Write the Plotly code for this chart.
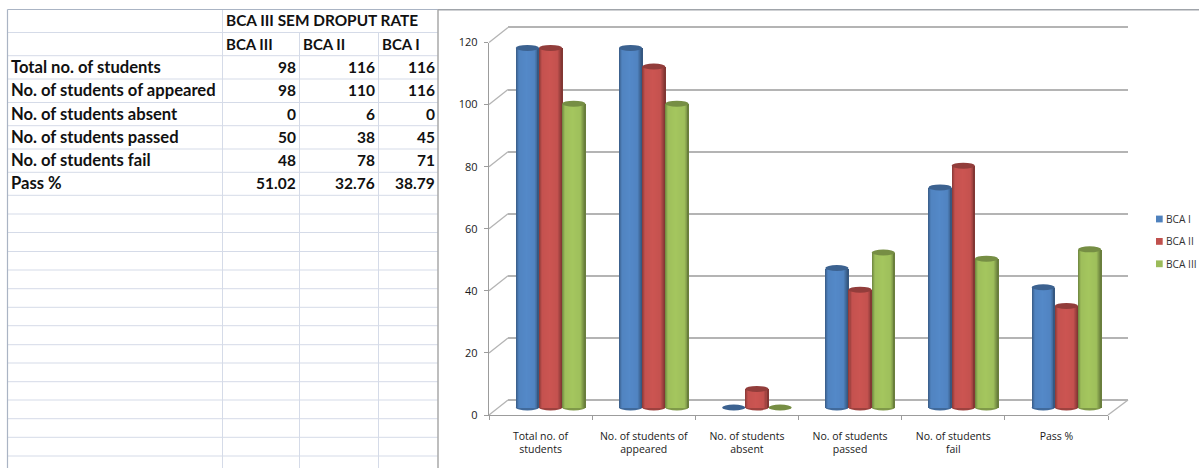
import plotly.graph_objects as go

# Dropout figures per class
row_labels = ["Total no. of students", "No. of students of appeared", "No. of students absent",
              "No. of students passed", "No. of students fail", "Pass %"]
axis_labels = ["Total no. of<br>students", "No. of students of<br>appeared", "No. of students<br>absent",
               "No. of students<br>passed", "No. of students<br>fail", "Pass %"]
bca_i = [116, 116, 0, 45, 71, 38.79]
bca_ii = [116, 110, 6, 38, 78, 32.76]
bca_iii = [98, 98, 0, 50, 48, 51.02]
value_ticks = [0, 20, 40, 60, 80, 100, 120]
table_title = "BCA III SEM DROPUT RATE"

W, H = 1199, 468
FONT = "Lato"
CHART_FONT = "Open Sans"
TEXT = "#1a1a1a"
GRID = "#b4b4b4"
AXIS = "#9c9c9c"
CELL = "#d5dbe8"


def px(x):
    return x / W


def py(y):
    return 1 - y / H


fig = go.Figure()

# Three stacked coordinate systems give the pseudo-3D look:
# back wall (gridlines), cylinders, front plane (ticks and labels).
WALL_L, WALL_R, WALL_B, WALL_T = 508, 1128, 400, 27.5
FRONT_L, FRONT_R, FRONT_B, FRONT_T = 489, 1108, 415, 42.5
BAR_L, BAR_R = 499, 1118
UNIT = 3.1
BAR_ZERO = 407.5
BAR_FLOOR = -8
y_max = value_ticks[-1]
# The wall axis runs a little past the top tick so its gridline is still drawn
wall_top = y_max + 1
wall_top_px = WALL_B - (WALL_B - WALL_T) * wall_top / y_max

x_idx = list(range(len(axis_labels)))
slot_px = (BAR_R - BAR_L) / len(axis_labels)
bar_w = 23.2 / slot_px
STRIPS = 23
CAP = 3 / UNIT

fig.add_trace(go.Scatter(x=[0], y=[0], xaxis="x", yaxis="y", mode="markers",
                         marker=dict(opacity=0), showlegend=False, hoverinfo="skip"))


def shade(rgb, f):
    return "rgb({},{},{})".format(*[min(255, round(c * f)) for c in rgb])


def cylinder_factor(t):
    # Horizontal lighting across a cylinder, t runs 0..1 left to right
    if t < 0.13:
        return 0.70 + (1.02 - 0.70) * (t / 0.13)
    if t < 0.80:
        return 1.02 + 0.04 * (1 - abs(t - 0.46) / 0.34)
    return 1.02 - (1.02 - 0.64) * ((t - 0.80) / 0.20)


series = [("BCA I", bca_i, (79, 129, 189)),
          ("BCA II", bca_ii, (192, 80, 77)),
          ("BCA III", bca_iii, (155, 187, 89))]
shapes = []
annotations = []

for s, (name, values, rgb) in enumerate(series):
    left = (s - 1.5) * bar_w
    base_col = "rgb({},{},{})".format(*rgb)
    fig.add_trace(go.Bar(x=x_idx, y=values, name=name, width=bar_w, offset=left,
                         marker=dict(color=base_col, line=dict(width=0)), showlegend=False,
                         xaxis="x2", yaxis="y2", hoverinfo="skip"))
    # Painted left to right, each strip reaching the right edge so no seams show
    for k in range(STRIPS):
        frac = k / STRIPS
        fig.add_trace(go.Bar(x=x_idx, y=values, width=bar_w * (1 - frac), offset=left + bar_w * frac,
                             marker=dict(color=shade(rgb, cylinder_factor((k + 0.5) / STRIPS)), line=dict(width=0)),
                             xaxis="x2", yaxis="y2", showlegend=False, hoverinfo="skip"))
    for i, v in zip(x_idx, values):
        if v > 0:
            shapes.append(dict(type="circle", xref="x2", yref="y2", layer="below", line=dict(width=0),
                               fillcolor=shade(rgb, 0.82), x0=i + left, x1=i + left + bar_w, y0=-CAP, y1=CAP))
        shapes.append(dict(type="circle", xref="x2", yref="y2", layer="above", line=dict(width=0),
                           fillcolor=shade(rgb, 0.76), x0=i + left, x1=i + left + bar_w, y0=v - CAP, y1=v + CAP))
    # Legend key: small square with the label right next to it
    key_y = 219 + s * 22.4
    shapes.append(dict(type="rect", xref="paper", yref="paper", layer="above", line=dict(width=0),
                       fillcolor=base_col, x0=px(1156), x1=px(1162.7), y0=py(key_y - 3.4), y1=py(key_y + 3.4)))
    annotations.append(dict(text=name, xref="paper", yref="paper", x=px(1164.5), y=py(key_y), xanchor="left",
                            yanchor="middle", showarrow=False, borderpad=0,
                            font=dict(family=CHART_FONT, size=10.2, color="#333333")))

fig.add_trace(go.Scatter(x=axis_labels, y=[0] * len(axis_labels), xaxis="x3", yaxis="y3", mode="markers",
                         marker=dict(opacity=0), showlegend=False, hoverinfo="skip"))

# Side wall and floor edges joining the front plane to the back wall
for v in value_ticks:
    yf = FRONT_B - (FRONT_B - FRONT_T) * v / y_max
    shapes.append(dict(type="line", xref="paper", yref="paper", layer="below", line=dict(color=GRID, width=1.3),
                       x0=px(FRONT_L), x1=px(WALL_L), y0=py(yf), y1=py(yf - (FRONT_B - WALL_B))))
shapes.append(dict(type="line", xref="paper", yref="paper", layer="below", line=dict(color=GRID, width=1.3),
                   x0=px(FRONT_R), x1=px(WALL_R), y0=py(FRONT_B), y1=py(WALL_B)))

# Worksheet grid
col_lines = [7.5, 222.5, 299.5, 378.5]
row_lines = [9.5, 32.5, 55.7, 79, 102.5, 125.7, 149, 172.3, 195.3, 214, 232.5, 251.5, 270, 288.7,
             307.3, 325.7, 344.7, 363, 381.7, 400, 418.7, 437.3, 456]
TABLE_R = 438
for y in row_lines[1:]:
    shapes.append(dict(type="line", xref="paper", yref="paper", layer="below", line=dict(color=CELL, width=1),
                       x0=px(col_lines[0]), x1=px(TABLE_R), y0=py(y), y1=py(y)))
for x in col_lines[1:]:
    shapes.append(dict(type="line", xref="paper", yref="paper", layer="below", line=dict(color=CELL, width=1),
                       x0=px(x), x1=px(x), y0=py(row_lines[1] if x != col_lines[1] else row_lines[0]), y1=py(H)))
shapes.append(dict(type="line", xref="paper", yref="paper", layer="below", line=dict(color="#aab4c4", width=1.2),
                   x0=px(col_lines[0]), x1=px(col_lines[0]), y0=py(row_lines[0]), y1=py(H)))
shapes.append(dict(type="line", xref="paper", yref="paper", layer="below", line=dict(color="#aab4c4", width=1.2),
                   x0=px(col_lines[0]), x1=px(TABLE_R), y0=py(row_lines[0]), y1=py(row_lines[0])))
# Chart frame
shapes.append(dict(type="line", xref="paper", yref="paper", layer="below", line=dict(color="#a0a4aa", width=1.5),
                   x0=px(TABLE_R), x1=1, y0=py(9.8), y1=py(9.8)))
shapes.append(dict(type="line", xref="paper", yref="paper", layer="below", line=dict(color="#a8a8a8", width=1.5),
                   x0=px(TABLE_R), x1=px(TABLE_R), y0=py(9.8), y1=py(H)))


def cell(text, x, y, anchor, size):
    annotations.append(dict(text="<b>%s</b>" % text, xref="paper", yref="paper", x=px(x), y=py(y),
                            xanchor=anchor, yanchor="middle", showarrow=False,
                            font=dict(family=FONT, size=size, color="#111111")))


cell(table_title, 223.5, 20.5, "left", 15.4)
for x, head in zip([223.5, 301, 380], ["BCA III", "BCA II", "BCA I"]):
    cell(head, x, 44, "left", 15)
for r, label in enumerate(row_labels):
    y = 67 + r * 23.25
    cell(label, 9, y, "left", 16.6)
    for x, col in zip([297.5, 376.5, 437], [bca_iii, bca_ii, bca_i]):
        cell(f"{col[r]:g}", x, y, "right", 15.5)

fig.update_layout(
    width=W, height=H, autosize=False, margin=dict(l=0, r=0, t=0, b=0, autoexpand=False),
    paper_bgcolor="white", plot_bgcolor="rgba(0,0,0,0)", showlegend=False,
    barmode="overlay", bargap=0, shapes=shapes, annotations=annotations,
    font=dict(family=CHART_FONT, size=10, color=TEXT), hovermode=False,
    xaxis=dict(domain=[px(WALL_L), px(WALL_R)], range=[0, 1], visible=False, fixedrange=True),
    yaxis=dict(domain=[py(WALL_B), py(wall_top_px)], range=[0, wall_top], tickvals=value_ticks, showgrid=True,
               gridcolor=GRID, gridwidth=1.5, showticklabels=False, ticks="", zeroline=True,
               zerolinecolor=GRID, zerolinewidth=1.8, showline=False, fixedrange=True),
    xaxis2=dict(domain=[px(BAR_L), px(BAR_R)], range=[-0.5, len(axis_labels) - 0.5], visible=False,
                anchor="y2", fixedrange=True),
    yaxis2=dict(domain=[py(BAR_ZERO - BAR_FLOOR * UNIT), py(BAR_ZERO - y_max * UNIT)], range=[BAR_FLOOR, y_max],
                visible=False, anchor="x2", fixedrange=True),
    xaxis3=dict(domain=[px(FRONT_L), px(FRONT_R)], type="category", categoryorder="array",
                categoryarray=axis_labels, range=[-0.5, len(axis_labels) - 0.5], tickson="boundaries",
                ticks="outside", ticklen=4, tickcolor=AXIS, tickwidth=1, showline=True, linecolor=AXIS, linewidth=1,
                showgrid=False, anchor="y3", tickangle=0, ticklabelstandoff=11, fixedrange=True,
                tickfont=dict(family=CHART_FONT, size=10.5, color=TEXT)),
    yaxis3=dict(domain=[py(FRONT_B), py(FRONT_T)], range=[0, y_max], tickvals=value_ticks, showgrid=False,
                zeroline=False, ticks="outside", ticklen=4, tickcolor=AXIS, tickwidth=1, showline=True,
                linecolor=AXIS, linewidth=1.3, anchor="x3", ticklabelstandoff=4, fixedrange=True,
                tickfont=dict(family=CHART_FONT, size=11, color=TEXT)),
)

fig.write_html("out.html", config=dict(displayModeBar=False))
